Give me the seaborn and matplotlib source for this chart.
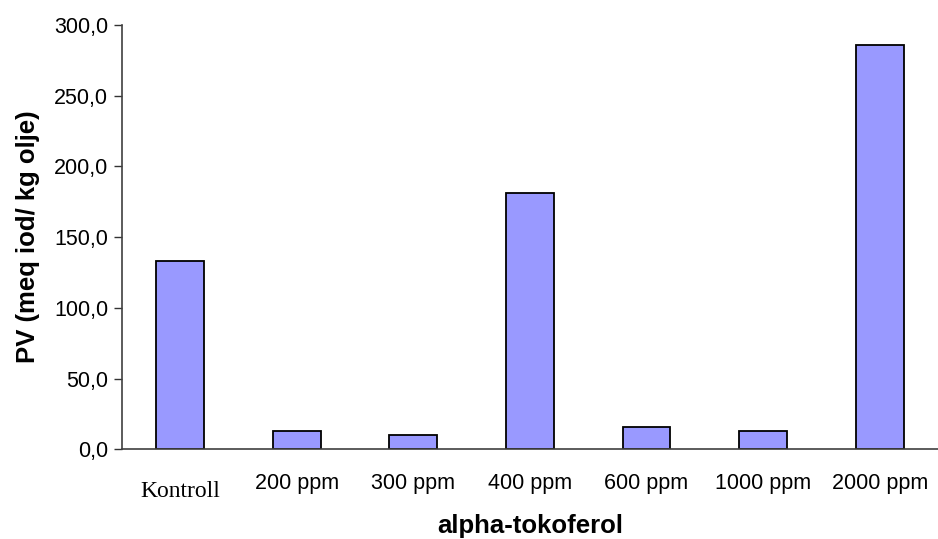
import matplotlib
matplotlib.use("Agg")
import matplotlib.pyplot as plt
from matplotlib.ticker import FuncFormatter, FixedLocator
import seaborn as sns
import pandas as pd

# Peroxide values per alpha-tocopherol dose
categories = ["Kontroll", "200 ppm", "300 ppm", "400 ppm", "600 ppm", "1000 ppm", "2000 ppm"]
pv_values = [133.1, 12.9, 9.9, 181.0, 15.6, 12.9, 286.1]
y_ticks = [0, 50, 100, 150, 200, 250, 300]

df = pd.DataFrame({"dose": categories, "pv": pv_values})

sns.set_style("white")
plt.rcParams["font.family"] = ["Liberation Sans", "DejaVu Sans"]
plt.rcParams["text.color"] = "black"
plt.rcParams["axes.labelcolor"] = "black"
plt.rcParams["xtick.color"] = "black"
plt.rcParams["ytick.color"] = "black"

fig = plt.figure(figsize=(9.38, 5.39), dpi=100)
ax = fig.add_axes([0.130, 0.1664, 0.870, 0.7872])

sns.barplot(data=df, x="dose", y="pv", order=categories, color="#9999FF",
            saturation=1, edgecolor="black", linewidth=1.3, width=0.41, ax=ax)

ax.set_xlim(-0.5, len(categories) - 0.5)
ax.set_ylim(0, 300)
ax.set_yticks(y_ticks)
ax.yaxis.set_major_formatter(FuncFormatter(lambda v, p: f"{v:.1f}".replace(".", ",")))

# Category boundaries get the tick marks; labels sit at the centres
ax.xaxis.set_minor_locator(FixedLocator([i - 0.5 for i in range(len(categories) + 1)]))
ax.tick_params(axis="x", which="major", length=0, pad=17, labelsize=15.5, labelcolor="black")
ax.tick_params(axis="x", which="minor", length=6, width=1, color="#333333", direction="out")
ax.tick_params(axis="y", which="major", length=6, width=1, color="#333333",
               direction="out", labelsize=15.5, pad=4, left=True, labelcolor="black")

for lbl in ax.get_xticklabels():
    if lbl.get_text() == "Kontroll":
        lbl.set_fontfamily("Liberation Serif")
        lbl.set_fontsize(17)
        lbl.set_y(-0.018)

for side in ("top", "right"):
    ax.spines[side].set_visible(False)
for side in ("left", "bottom"):
    ax.spines[side].set_color("#404040")
    ax.spines[side].set_linewidth(1.2)

ax.set_xlabel("alpha-tokoferol", fontsize=18.5, fontweight="bold", labelpad=9, color="black")
ax.set_ylabel("PV (meq iod/ kg olje)", fontsize=18.5, fontweight="bold", labelpad=10, color="black")

fig.savefig("out.png", dpi=100)
